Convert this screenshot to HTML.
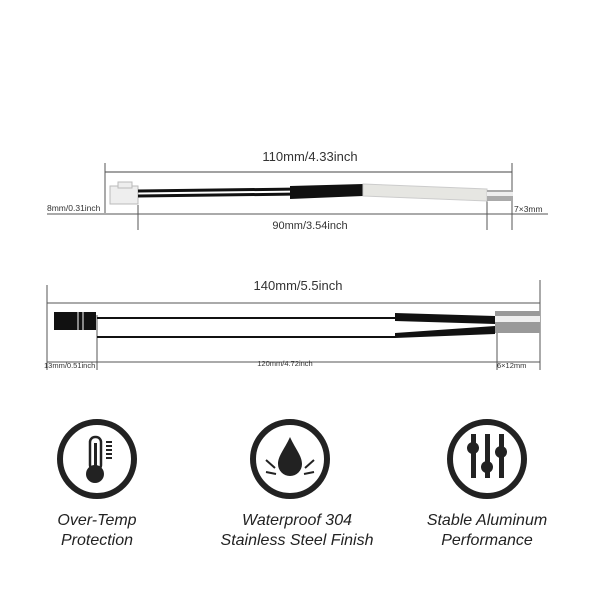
<!DOCTYPE html>
<html><head><style>
body{margin:0;background:#fff;width:600px;height:600px;overflow:hidden}
</style></head><body>
<svg width="600" height="600" viewBox="0 0 600 600" xmlns="http://www.w3.org/2000/svg" font-family="Liberation Sans, sans-serif">
<!-- top product -->
<text x="310" y="161" font-size="13" text-anchor="middle" fill="#333">110mm/4.33inch</text>
<line x1="105" y1="172" x2="512" y2="172" stroke="#444" stroke-width="1"/>
<line x1="105" y1="163" x2="105" y2="213" stroke="#555" stroke-width="1"/>
<line x1="512" y1="163" x2="512" y2="230" stroke="#555" stroke-width="1"/>
<line x1="138" y1="205" x2="138" y2="230" stroke="#555" stroke-width="1"/>
<line x1="487" y1="190" x2="487" y2="230" stroke="#555" stroke-width="1"/>
<line x1="47" y1="214" x2="548" y2="214" stroke="#555" stroke-width="1"/>
<text x="47" y="211" font-size="8.5" fill="#333">8mm/0.31inch</text>
<text x="514" y="212" font-size="8.5" fill="#333">7×3mm</text>
<text x="310" y="229" font-size="11" text-anchor="middle" fill="#333">90mm/3.54inch</text>
<rect x="110" y="186" width="28" height="18" fill="#eee" stroke="#bbb"/>
<rect x="118" y="182" width="14" height="6" fill="#eee" stroke="#bbb"/>
<line x1="138" y1="191" x2="300" y2="189" stroke="#111" stroke-width="3"/>
<line x1="138" y1="196" x2="300" y2="194" stroke="#111" stroke-width="3"/>
<path d="M290 186 L363 184 L363 196 L290 199 Z" fill="#111"/>
<path d="M363 184 L487 189 L487 201 L363 196 Z" fill="#e6e6e2" stroke="#ccc"/>
<rect x="487" y="190" width="26" height="11" fill="#aaa"/>
<rect x="487" y="192" width="26" height="4" fill="#eee"/>
<!-- second product -->
<text x="298" y="290" font-size="13" text-anchor="middle" fill="#333">140mm/5.5inch</text>
<line x1="47" y1="303" x2="540" y2="303" stroke="#555" stroke-width="1"/>
<line x1="47" y1="285" x2="47" y2="370" stroke="#555" stroke-width="1"/>
<line x1="540" y1="280" x2="540" y2="370" stroke="#555" stroke-width="1"/>
<line x1="97" y1="315" x2="97" y2="370" stroke="#555" stroke-width="1"/>
<line x1="497" y1="325" x2="497" y2="370" stroke="#555" stroke-width="1"/>
<line x1="47" y1="362" x2="540" y2="362" stroke="#555" stroke-width="1"/>
<text x="44" y="368" font-size="7.5" fill="#333">13mm/0.51inch</text>
<text x="285" y="366" font-size="7.5" text-anchor="middle" fill="#333">120mm/4.72inch</text>
<text x="497" y="368" font-size="7.5" fill="#333">6×12mm</text>
<rect x="54" y="312" width="42" height="18" fill="#111"/>
<line x1="78" y1="312" x2="78" y2="330" stroke="#fff" stroke-width="1"/>
<line x1="83" y1="312" x2="83" y2="330" stroke="#fff" stroke-width="1"/>
<line x1="97" y1="318" x2="395" y2="318" stroke="#111" stroke-width="2"/>
<line x1="97" y1="337" x2="395" y2="337" stroke="#111" stroke-width="2"/>
<path d="M395 313 L495 316 L495 324 L395 321 Z" fill="#111"/>
<path d="M395 333 L495 326 L495 334 L395 338 Z" fill="#111"/>
<rect x="495" y="311" width="45" height="22" fill="#999"/>
<rect x="495" y="316" width="45" height="6" fill="#eee"/>
<!-- icons -->
<g fill="none" stroke="#222" stroke-width="6">
<circle cx="97" cy="459" r="37"/>
<circle cx="290" cy="459" r="37"/>
<circle cx="487" cy="459" r="37"/>
</g>
<rect x="90" y="437" width="11" height="33" rx="5" fill="none" stroke="#222" stroke-width="2.5"/>
<circle cx="95" cy="474" r="9" fill="#222"/>
<rect x="94" y="443" width="3" height="28" fill="#222"/>
<g stroke="#222" stroke-width="2"><line x1="106" y1="442" x2="112" y2="442"/><line x1="106" y1="446" x2="112" y2="446"/><line x1="106" y1="450" x2="112" y2="450"/><line x1="106" y1="454" x2="112" y2="454"/><line x1="106" y1="458" x2="112" y2="458"/></g>
<path d="M290 437 C284 450 278 456 278 464 A12 12 0 0 0 302 464 C302 456 296 450 290 437 Z" fill="#222"/>
<g stroke="#222" stroke-width="2"><line x1="266" y1="460" x2="275" y2="468"/><line x1="266" y1="472" x2="276" y2="474"/><line x1="314" y1="460" x2="305" y2="468"/><line x1="314" y1="472" x2="304" y2="474"/></g>
<g fill="#222"><rect x="471" y="434" width="5" height="44"/><rect x="485" y="434" width="5" height="44"/><rect x="499" y="434" width="5" height="44"/>
<circle cx="473" cy="448" r="6"/><circle cx="487" cy="467" r="6"/><circle cx="501" cy="452" r="6"/></g>
<g font-size="16" font-style="italic" fill="#222" text-anchor="middle">
<text x="97" y="525">Over-Temp</text><text x="97" y="545">Protection</text>
<text x="297" y="525">Waterproof 304</text><text x="297" y="545">Stainless Steel Finish</text>
<text x="487" y="525">Stable Aluminum</text><text x="487" y="545">Performance</text>
</g>
</svg>
</body></html>
